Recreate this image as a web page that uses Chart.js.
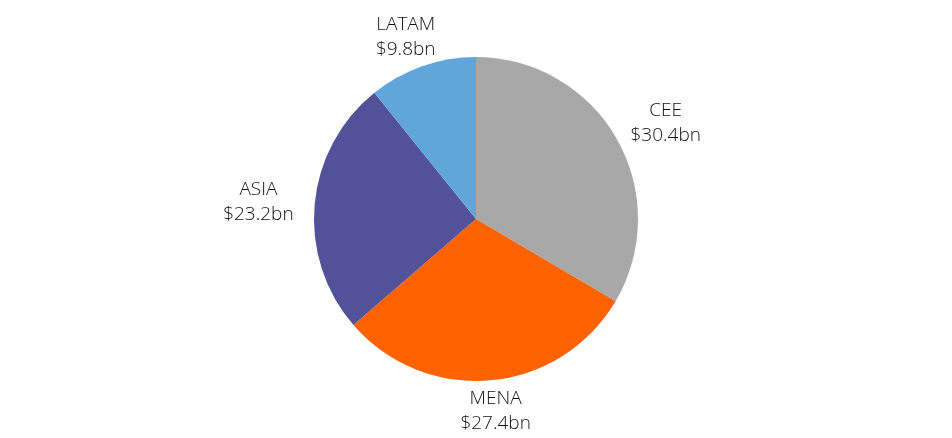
<!DOCTYPE html>
<html>
<head>
<meta charset="utf-8">
<script src="https://cdn.jsdelivr.net/npm/chart.js@4.4.1/dist/chart.umd.min.js"></script>
<style>
    html, body { margin: 0; padding: 0; background: #fff; }
    #wrap { width: 952px; height: 438px; position: relative; }
</style>
</head>
<body>
<div id="wrap"><canvas id="regionChart"></canvas></div>
<script>
const regions = ['CEE', 'MENA', 'ASIA', 'LATAM'];
const amounts = [30.4, 27.4, 23.2, 9.8];
const valueLabels = ['$30.4bn', '$27.4bn', '$23.2bn', '$9.8bn'];
const sliceColors = ['#a8a8a8', '#ff6200', '#525199', '#60a6db'];

// draws "name / value" labels outside each slice
const outsideLabels = {
    id: 'outsideLabels',
    afterDatasetsDraw(chart) {
        const ctx = chart.ctx;
        const meta = chart.getDatasetMeta(0);
        const lineH = 25;
        const gap = 10;
        ctx.save();
        ctx.font = '300 19px "Open Sans", sans-serif';
        ctx.fillStyle = '#111';
        ctx.textAlign = 'center';
        ctx.textBaseline = 'middle';
        meta.data.forEach((arc, i) => {
            const p = arc.getProps(['x', 'y', 'startAngle', 'endAngle', 'outerRadius'], true);
            const mid = (p.startAngle + p.endAngle) / 2;
            const cos = Math.cos(mid);
            const sin = Math.sin(mid);
            const lines = [regions[i], valueLabels[i]];
            const w = Math.max(...lines.map(t => ctx.measureText(t).width));
            const h = lineH * lines.length;
            const cx = p.x + (p.outerRadius + gap) * cos + cos * w * 0.66;
            const cy = p.y + (p.outerRadius + gap) * sin + sin * h * 0.42;
            lines.forEach((t, k) => {
                ctx.fillText(t, cx, cy + (k - (lines.length - 1) / 2) * lineH);
            });
        });
        ctx.restore();
    }
};

document.addEventListener('DOMContentLoaded', function () {
    const canvas = document.getElementById('regionChart');
    new Chart(canvas.getContext('2d'), {
        type: 'pie',
        data: {
            labels: regions,
            datasets: [{
                data: amounts,
                backgroundColor: sliceColors,
                borderWidth: 0
            }]
        },
        options: {
            responsive: true,
            maintainAspectRatio: false,
            animation: false,
            layout: { padding: { top: 57, bottom: 57 } },
            plugins: {
                legend: { display: false },
                tooltip: { enabled: false }
            }
        },
        plugins: [outsideLabels]
    });
});
</script>
</body>
</html>
